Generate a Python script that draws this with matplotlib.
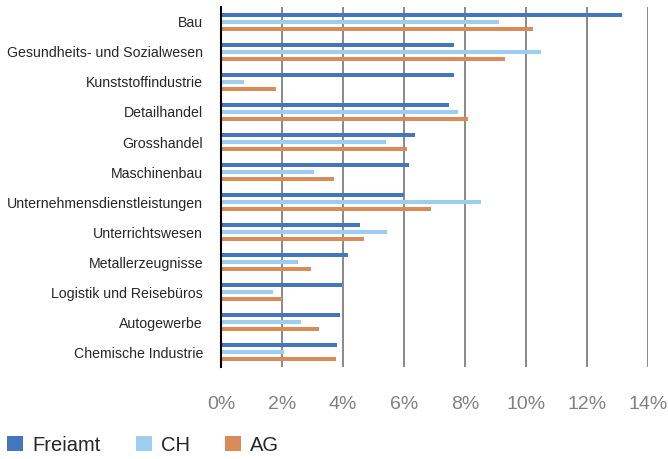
import numpy as np
import matplotlib
matplotlib.use("Agg")
import matplotlib.pyplot as plt
from matplotlib.ticker import FuncFormatter

plt.rcParams["font.family"] = ["Liberation Sans", "DejaVu Sans"]

categories = [
    "Bau",
    "Gesundheits- und Sozialwesen",
    "Kunststoffindustrie",
    "Detailhandel",
    "Grosshandel",
    "Maschinenbau",
    "Unternehmensdienstleistungen",
    "Unterrichtswesen",
    "Metallerzeugnisse",
    "Logistik und Reisebüros",
    "Autogewerbe",
    "Chemische Industrie",
]
freiamt = [13.14, 7.63, 7.63, 7.46, 6.35, 6.15, 5.99, 4.55, 4.15, 3.96, 3.89, 3.79]
ch = [9.10, 10.48, 0.74, 7.76, 5.40, 3.04, 8.51, 5.43, 2.51, 1.69, 2.61, 2.05]
ag = [10.22, 9.30, 1.79, 8.09, 6.09, 3.69, 6.87, 4.68, 2.94, 2.01, 3.20, 3.76]

series = [("Freiamt", freiamt, "#4576bd"), ("CH", ch, "#9dcdef"), ("AG", ag, "#d98c5a")]

fig = plt.figure(figsize=(6.68, 4.59), dpi=100)
ax = fig.add_axes([0.331, 0.20, 0.639, 0.785])

y = np.arange(len(categories))
h = 0.13
step = 0.233
for i, (name, vals, col) in enumerate(series):
    ax.barh(y + (i - 1) * step, np.array(vals) / 100, height=h, color=col, label=name, zorder=3)

ax.set_ylim(len(categories) - 0.5, -0.5)
ax.set_xlim(0, 0.14)
ax.set_xticks(np.arange(0, 0.141, 0.02))
ax.xaxis.set_major_formatter(FuncFormatter(lambda v, _: f"{v * 100:.0f}%"))
ax.set_yticks(y)
ax.set_yticklabels(categories, fontsize=10.2, color="#262626")

ax.grid(axis="x", color="#808080", lw=1.3, zorder=0)
for s in ["top", "right", "bottom"]:
    ax.spines[s].set_visible(False)
ax.spines["left"].set_color("black")
ax.spines["left"].set_linewidth(1.5)
ax.spines["left"].set_zorder(4)
ax.tick_params(axis="y", length=0, pad=13)
ax.tick_params(axis="x", length=0, pad=21, labelsize=14, labelcolor="#808080")

fig.legend(loc="lower left", bbox_to_anchor=(-0.002, -0.008), ncol=3, frameon=False,
           fontsize=14.5, handlelength=0.8, handleheight=0.8, handletextpad=0.45,
           columnspacing=1.75, labelcolor="#262626", borderaxespad=0.0)

fig.savefig("out.png", dpi=100)
